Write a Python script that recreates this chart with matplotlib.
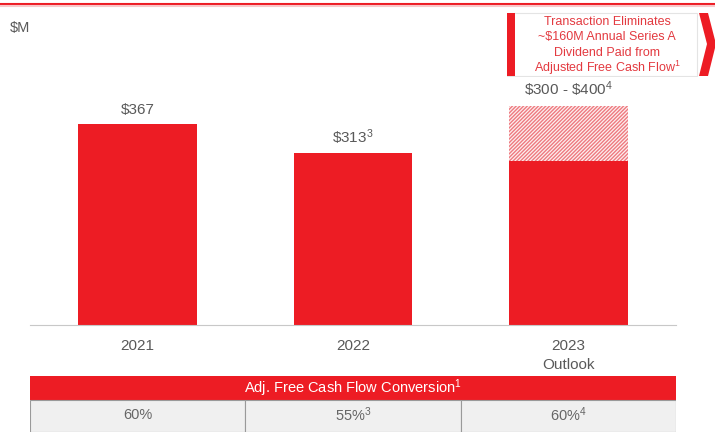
import matplotlib.pyplot as plt
from matplotlib.patches import Rectangle, Polygon

plt.rcParams['font.family'] = ['Liberation Sans', 'DejaVu Sans']
plt.rcParams['mathtext.fontset'] = 'custom'
plt.rcParams['mathtext.rm'] = 'Liberation Sans'
plt.rcParams['mathtext.it'] = 'Liberation Sans'
plt.rcParams['hatch.linewidth'] = 1.0

# data
years = ['2021', '2022', '2023\nOutlook']
values = [367, 313, 300]
outlook_high = 400
bar_labels = [r'\$367', r'\$313$^{3}$', r'\$300 - \$400$^{4}$']
conversion = ['60%', r'55%$^{3}$', r'60%$^{4}$']
callout = ['Transaction Eliminates', '~$160M Annual Series A',
           'Dividend Paid from', r'Adjusted Free Cash Flow$^{1}$']

RED = '#ED1C24'
GRAY = '#595959'
W, H = 715, 432

def box(x0, y0, x1, y1):
    # pixel box (top-left origin) -> figure fraction rect
    return [x0 / W, 1 - y1 / H, (x1 - x0) / W, (y1 - y0) / H]

fig = plt.figure(figsize=(7.15, 4.32), dpi=100)

# main bars
ax = fig.add_axes(box(30, 0, 676, 325))
x = range(len(years))
ax.bar(x, values, width=0.552, color=RED, zorder=2)
ax.bar(2, outlook_high - values[2], bottom=values[2], width=0.552,
       facecolor='#FDF0F0', edgecolor='#EE7A80', hatch='/////////', linewidth=0, zorder=1)
ax.set_xlim(-0.5, 2.5)
ax.set_ylim(0, 593)
for s in ['top', 'right', 'left']:
    ax.spines[s].set_visible(False)
ax.spines['bottom'].set_color('#C8C8C8')
ax.set_yticks([])
ax.set_xticks(list(x))
ax.set_xticklabels(years, fontsize=11, color=GRAY, linespacing=1.45)
ax.tick_params(axis='x', length=0, pad=10)
tops = [values[0], values[1], outlook_high]
for i, (t, lab) in enumerate(zip(tops, bar_labels)):
    ax.text(i, t + 12, lab, ha='center', va='bottom', fontsize=11, color=GRAY)

fig.text(10 / W, 1 - 28 / H, '$M', fontsize=10.5, color=GRAY, va='center')

# top rule
fig.add_artist(plt.Line2D([0, 1], [1 - 3.5 / H] * 2, color=RED, lw=1.5))
fig.add_artist(plt.Line2D([0, 1], [1 - 5.5 / H] * 2, color='#F8C8CA', lw=1.5))

# callout
cax = fig.add_axes(box(507, 12, 715, 77))
cax.set_xlim(507, 715)
cax.set_ylim(77, 12)
cax.axis('off')
cax.add_patch(Rectangle((507, 13), 190, 63, facecolor='white', edgecolor='#E4E4E4', lw=0.8))
cax.add_patch(Rectangle((507, 13), 8, 63, facecolor=RED, lw=0))
cax.add_patch(Polygon([(699, 13), (708, 13), (716, 44), (708, 76), (699, 76), (707, 44)],
                      closed=True, facecolor=RED, lw=0))
for i, line in enumerate(callout):
    cax.text(607, 22 + i * 15.3, line, ha='center', va='center', fontsize=9, color='#E33A40')

# conversion table
tax = fig.add_axes(box(30, 376, 676, 432))
tax.set_xlim(0, 3)
tax.set_ylim(0, 56)
tax.axis('off')
tax.add_patch(Rectangle((0, 32), 3, 24, facecolor=RED, lw=0))
tax.text(1.5, 44, r'Adj. Free Cash Flow Conversion$^{1}$', ha='center', va='center',
         fontsize=10.5, color='white')
for i, c in enumerate(conversion):
    tax.add_patch(Rectangle((i, 0), 1, 32, facecolor='#F0F0F0', edgecolor='#9A9A9A', lw=0.8))
    tax.text(i + 0.5, 17, c, ha='center', va='center', fontsize=10.5, color='#666666')

fig.savefig('out.png', dpi=100)
